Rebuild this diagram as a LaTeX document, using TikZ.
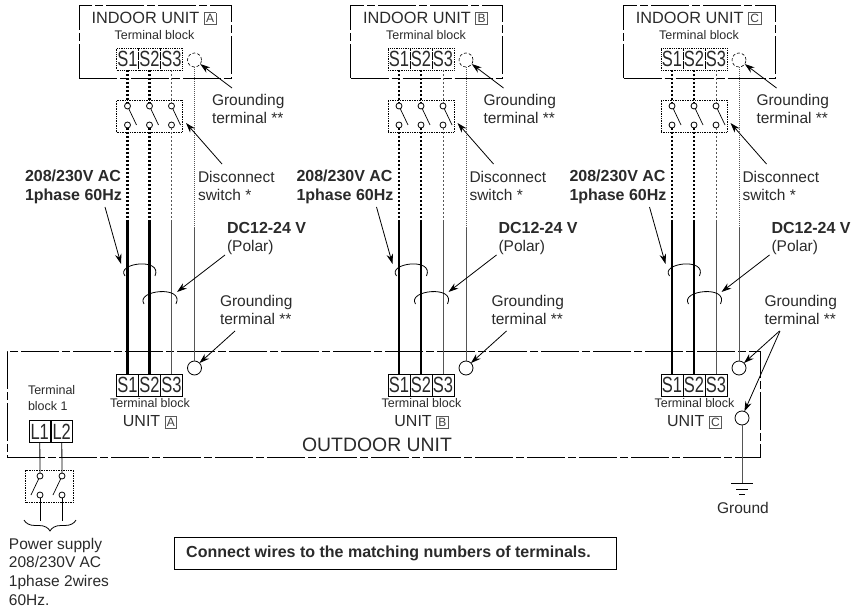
\documentclass[tikz,border=0pt]{standalone}
\usepackage{fontspec}
\setmainfont{Liberation Sans}
\newfontfamily\termfont[FakeStretch=0.75]{Liberation Sans}
\usetikzlibrary{positioning,arrows.meta,calc,decorations.pathreplacing}
\definecolor{inkgray}{HTML}{2A2A2A}
\definecolor{wiregray}{HTML}{555555}
\newcommand{\unitmark}[1]{{\setlength{\fboxsep}{1.6pt}\setlength{\fboxrule}{0.6pt}\raisebox{0.6pt}{\fcolorbox{black!65}{white}{\fontsize{12}{12}\selectfont\color{black!75}#1}}}}
\newcommand{\fsize}[1]{\fontsize{#1}{18.6}\selectfont}

\begin{document}
\begin{tikzpicture}[
      x=1pt, y=-1pt,
      every node/.style={inner sep=0, outer sep=0, text=inkgray},
      txt/.style={font=\fsize{15.5}, align=left, anchor=north west},
      boldtxt/.style={font=\fsize{16}\bfseries, align=left, anchor=north west},
      smalltxt/.style={font=\fsize{12.5}},
      frame/.style={draw=black, line width=0.8pt, dash pattern=on 38pt off 3pt on 8pt off 3pt},
      termin/.style={draw=black, densely dotted, line width=0.8pt, minimum width=22pt, minimum height=22pt, font=\fontsize{22}{22}\selectfont\termfont},
      termout/.style={termin, solid},
      swbox/.style={draw=black, densely dotted, line width=0.7pt},
      contact/.style={circle, draw=black, line width=0.8pt, fill=white, minimum size=6pt},
      gndterm/.style={circle, draw=black, line width=0.8pt, fill=white, minimum size=14pt},
      blade/.style={draw=black, line width=0.7pt},
      dotwire/.style={dash pattern=on 2pt off 2pt},
      wirehv/.style={draw=black, line width=2.2pt},
      wirelt/.style={draw=wiregray, line width=1pt},
      pointer/.style={draw=black, line width=0.8pt, -{Stealth[length=10pt,width=6.5pt]}},
      cable/.style={draw=black, line width=0.8pt},
      ]
      \useasboundingbox (0,0) rectangle (856,609);
      % outdoor unit
      \node[frame, minimum width=753pt, minimum height=106pt] (outdoor) at (383.5,404) {};
      \node[font=\fsize{19.4}] (outdoorlabel) at (377,445) {OUTDOOR UNIT};
      % one set of indoor unit wiring for each unit
      \foreach \u/\ux in {A/0,B/271.5,C/544.5} {
        \begin{scope}[xshift=\ux pt]
          \node[frame, minimum width=152pt, minimum height=73pt] (indoor\u) at (155,41.5) {};
          \node[font=\fsize{16.3}] (title\u) at (154,18.5) {INDOOR UNIT \unitmark{\u}};
          \node[smalltxt] (blockin\u) at (154.5,35) {Terminal block};
          \node[swbox, minimum width=66pt, minimum height=32pt] (switch\u) at (149.5,116) {};
          \foreach \i/\wx/\wire in {1/127.5/wirehv,2/149.5/wirehv,3/171.5/wirelt} {
            \node[termin] (ti\i\u) at (\wx,59) {S\i};
            \node[termout, fill=white] (to\i\u) at (\wx,385) {S\i};
            \node[contact] (swt\i\u) at (\wx,106) {};
            \node[contact] (swb\i\u) at (\wx,125) {};
            \coordinate (end\i\u) at (\wx,220);
            \draw[\wire, dotwire] (ti\i\u) -- (swt\i\u);
            \draw[\wire, dotwire] (swb\i\u) -- (end\i\u);
            \draw[\wire] (end\i\u) -- (to\i\u);
            \draw[blade] (swt\i\u.-65) -- ($(swb\i\u.center)+(9,0)$);
          }
          \node[gndterm, densely dashed, line width=0.6pt] (gi\u) at (194.5,60) {};
          \node[gndterm] (go\u) at (194.5,368) {};
          \coordinate (gend\u) at (194.5,228);
          \draw[wirelt, densely dotted, line width=0.8pt] (gi\u) -- (gend\u);
          \draw[wirelt] (gend\u) -- (go\u);
          % cables
          \draw[cable] (125,276) .. controls (115,263) and (163,257) .. (155,276);
          \draw[cable] (144,304) .. controls (135,290) and (185,285) .. (176,304);
          % labels
          \node[txt] (gilabel\u) at (212,94) {Grounding\\terminal **};
          \node[txt] (dslabel\u) at (198,171) {Disconnect\\switch *};
          \node[boldtxt] (aclabel\u) at (25,170) {208/230V AC\\1phase 60Hz};
          \node[boldtxt] (dclabel\u) at (227,222) {DC12-24 V};
          \node[txt] (polarlabel\u) at (227,240) {(Polar)};
          \node[txt] (golabel\u) at (220,295) {Grounding\\terminal **};
          \node[smalltxt] (blockout\u) at (150,403) {Terminal block};
          \node[font=\fsize{16}] (unit\u) at (150,422) {UNIT \unitmark{\u}};
          % pointers
          \coordinate (gip\u) at (232,88);
          \coordinate (dsp\u) at (222,164);
          \coordinate (dst\u) at (186,123);
          \coordinate (acp\u) at (105,207);
          \coordinate (act\u) at (121,264);
          \coordinate (dcp\u) at (225,255);
          \coordinate (dct\u) at (177,292);
          \coordinate (gop\u) at (235,331);
          \draw[pointer] (gip\u) -- (gi\u.-35);
          \draw[pointer] (dsp\u) -- (dst\u);
          \draw[pointer] (acp\u) -- (act\u);
          \draw[pointer] (dcp\u) -- (dct\u);
          \draw[pointer] (gop\u) -- (go\u.45);
        \end{scope}
      }
      % outdoor grounding and ground
      \node[gndterm] (gmain) at (742,418) {};
      \coordinate (gstem) at (742,483);
      \coordinate (gopextra) at (780,331);
      \draw[pointer] (gopextra) -- (gmain.70);
      \draw[wirelt] (gmain) -- (gstem);
      \draw[black, line width=0.8pt] (731,483) -- (753,483);
      \draw[black, line width=0.8pt] (736,489) -- (748,489);
      \draw[black, line width=0.8pt] (739,494) -- (745,494);
      \node[font=\fsize{15.5}] (groundlabel) at (743,508) {Ground};
      % power supply side
      \node[font=\fsize{12.5}, align=left, anchor=north west] (blockone) at (28,385) {Terminal\\[-2.5pt]block 1};
      \node[swbox, minimum width=48pt, minimum height=32pt] (pswitch) at (49.5,486) {};
      \foreach \i/\wx in {1/40,2/62} {
        \node[termout, minimum width=21.5pt] (l\i) at (\wx-0.25,431.5) {L\i};
        \node[contact] (pst\i) at (\wx,476) {};
        \node[contact] (psb\i) at (\wx,495) {};
        \coordinate (pend\i) at (\wx,521);
        \draw[draw=black, line width=0.8pt] (l\i) -- (pst\i);
        \draw[draw=black, line width=0.8pt] (psb\i) -- (pend\i);
        \draw[blade] (pst\i.-115) -- ($(psb\i.center)+(-9,0)$);
      }
      \draw[cable, decorate, decoration={brace, amplitude=11pt}] (76,520) -- (24,520);
      \node[txt] (supply) at (9,538) {Power supply\\208/230V AC\\1phase 2wires\\60Hz.};
      % note
      \node[draw=black, line width=0.8pt, minimum width=442pt, minimum height=32pt, font=\fontsize{16}{17}\selectfont\bfseries] (note) at (395,553) {Connect wires to the matching numbers of terminals.\kern13pt};
    \end{tikzpicture}
\end{document}
